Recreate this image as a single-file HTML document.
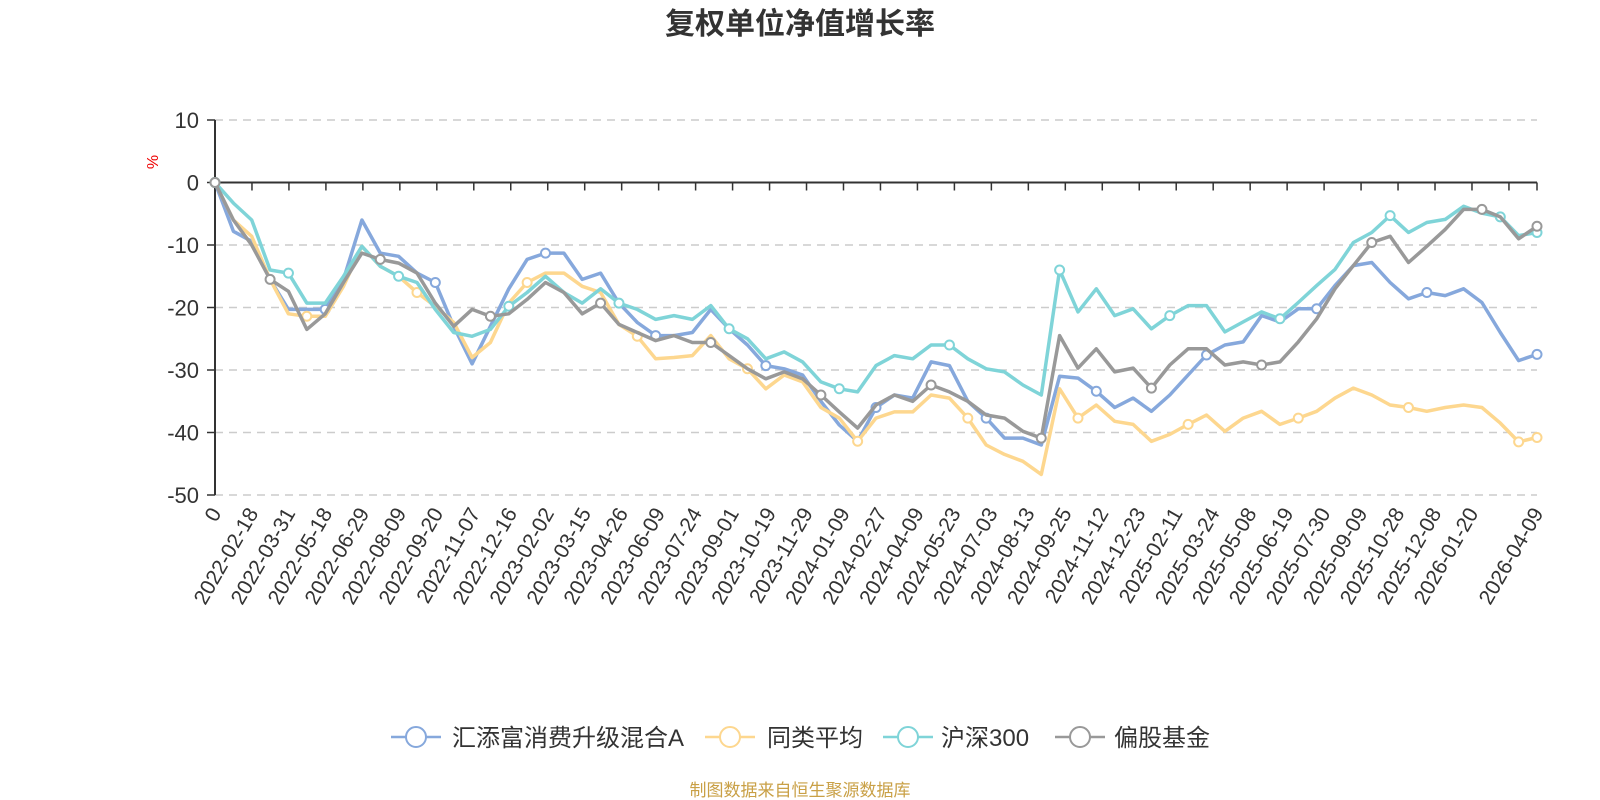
<!DOCTYPE html>
<html><head><meta charset="utf-8"><style>
html,body{margin:0;padding:0;background:#fff;width:1600px;height:800px;overflow:hidden;font-family:"Liberation Sans","Noto Sans CJK SC",sans-serif}
</style></head><body>
<svg id="chart" width="1600" height="800" xmlns="http://www.w3.org/2000/svg">
<text x="800" y="34" text-anchor="middle" font-size="30" font-weight="bold" fill="#333" font-family="Liberation Sans, Noto Sans CJK SC, sans-serif">复权单位净值增长率</text>
<text x="0" y="0" transform="translate(158,162) rotate(-90)" text-anchor="middle" font-size="16" fill="#e00">%</text>
<g id="grid"></g>
<g id="axes"></g>
<g id="series"></g>
<g id="legend"></g>
<text x="800" y="796" text-anchor="middle" font-size="17" fill="#c9a046" font-family="Liberation Sans, Noto Sans CJK SC, sans-serif">制图数据来自恒生聚源数据库</text>
</svg>
<script>
const xLabels = ["0","2022-02-18","2022-03-31","2022-05-18","2022-06-29","2022-08-09","2022-09-20","2022-11-07","2022-12-16","2023-02-02","2023-03-15","2023-04-26","2023-06-09","2023-07-24","2023-09-01","2023-10-19","2023-11-29","2024-01-09","2024-02-27","2024-04-09","2024-05-23","2024-07-03","2024-08-13","2024-09-25","2024-11-12","2024-12-23","2025-02-11","2025-03-24","2025-05-08","2025-06-19","2025-07-30","2025-09-09","2025-10-28","2025-12-08","2026-01-20","2026-04-09"];
const yTicks = [10,0,-10,-20,-30,-40,-50];
const seriesNames = ["汇添富消费升级混合A","同类平均","沪深300","偏股基金"];
const fundValues = [0,-7.8,-9.4,-15.5,-20.3,-20.3,-20.3,-15.5,-6,-11.3,-11.8,-14.5,-16,-23,-29,-23,-17,-12.3,-11.3,-11.3,-15.5,-14.5,-19.3,-22.4,-24.5,-24.5,-24,-20.3,-23.4,-26,-29.3,-29.8,-30.8,-35,-38.8,-41.4,-36,-34,-34.5,-28.7,-29.3,-35,-37.7,-40.9,-40.9,-42,-31,-31.3,-33.4,-36,-34.5,-36.6,-34,-30.8,-27.6,-26,-25.5,-21.3,-22.3,-20.2,-20.2,-16.5,-13.3,-12.8,-16,-18.6,-17.6,-18.1,-17,-19.2,-24,-28.5,-27.5];
const avgValues = [0,-6,-8.6,-15.5,-21,-21.4,-21.4,-16.6,-10.2,-13.4,-15,-17.6,-19.8,-22.4,-28,-25.6,-19.3,-16,-14.5,-14.5,-16.6,-17.6,-22.7,-24.6,-28.2,-28,-27.7,-24.5,-28.2,-29.8,-33,-30.8,-31.9,-36,-37.7,-41.4,-37.7,-36.7,-36.7,-34,-34.5,-37.7,-42,-43.5,-44.6,-46.7,-33,-37.7,-35.6,-38.2,-38.7,-41.4,-40.3,-38.7,-37.2,-39.8,-37.7,-36.6,-38.7,-37.7,-36.6,-34.5,-32.9,-34,-35.6,-36,-36.6,-36,-35.6,-36,-38.5,-41.5,-40.8];
const hs300Values = [0,-3.3,-6,-14,-14.5,-19.3,-19.3,-15,-10.2,-13.4,-15,-16,-20.3,-24,-24.6,-23.5,-19.8,-17.6,-15,-17.6,-19.3,-17,-19.3,-20.3,-21.9,-21.3,-21.9,-19.7,-23.4,-25,-28.2,-27.1,-28.7,-31.9,-33,-33.5,-29.3,-27.7,-28.2,-26,-26,-28.2,-29.8,-30.3,-32.4,-34,-14,-20.7,-17,-21.3,-20.2,-23.4,-21.3,-19.7,-19.7,-23.9,-22.3,-20.7,-21.8,-19.2,-16.5,-13.9,-9.6,-8,-5.3,-8,-6.4,-5.9,-3.8,-4.9,-5.5,-8.5,-8];
const equityValues = [0,-6,-10,-15.5,-17.4,-23.5,-21,-16,-11.3,-12.3,-12.9,-14.5,-19.3,-23,-20.3,-21.4,-21,-18.7,-16,-17.6,-21,-19.3,-22.7,-24,-25.3,-24.5,-25.6,-25.6,-27.7,-29.8,-31.4,-30.3,-31.4,-34,-36.7,-39.3,-35.6,-34,-35,-32.4,-33.5,-35,-37.2,-37.7,-39.8,-40.9,-24.5,-29.7,-26.6,-30.3,-29.7,-32.9,-29.2,-26.6,-26.6,-29.2,-28.7,-29.2,-28.7,-25.5,-21.8,-17,-13.3,-9.6,-8.6,-12.8,-10.2,-7.5,-4.3,-4.3,-5.5,-9,-7];
const colors = ["#86a8dc","#fdd78f","#7fd4d8","#999999"];

const NS="http://www.w3.org/2000/svg";
const X0=215, XEND=1537, TICKSTEP=36.97, Y0=182.5, PPU=6.25;
const nPts = fundValues.length;
function xScale(i){return X0+(XEND-X0)*i/(nPts-1);}
function xTick(k){return k===xLabels.length-1?XEND:X0+TICKSTEP*k;}
function yScale(v){return Y0-v*PPU;}
function mk(tag,attrs,parent){const e=document.createElementNS(NS,tag);for(const k in attrs)e.setAttribute(k,attrs[k]);parent.appendChild(e);return e;}

const grid=document.getElementById('grid'), axes=document.getElementById('axes'), ser=document.getElementById('series'), leg=document.getElementById('legend');
yTicks.forEach(v=>{
  const y=yScale(v);
  if(v!==0){const g=mk('line',{x1:X0,x2:XEND,y1:y,y2:y,stroke:'#ccc','stroke-width':1.5,'stroke-dasharray':'8,6'},grid);
  
  }
  const t=mk('line',{x1:X0-8,x2:X0,y1:y,y2:y,stroke:'#333','stroke-width':1.5},axes);
  
  
  const l=mk('text',{x:X0-16,y:y+8,'text-anchor':'end','font-size':22,fill:'#333'},axes);
  l.textContent=v;
  
  
});
const ya=mk('line',{x1:X0,x2:X0,y1:yScale(10),y2:yScale(-50),stroke:'#333','stroke-width':2},axes);


const xa=mk('line',{x1:X0,x2:XEND,y1:Y0,y2:Y0,stroke:'#333','stroke-width':2},axes);


for(let k=0;k<=35;k++){
  const x=X0+TICKSTEP*k;
  const t=mk('line',{x1:x,x2:x,y1:Y0,y2:Y0+8,stroke:'#333','stroke-width':1.5},axes);
  
  
}
const te=mk('line',{x1:XEND,x2:XEND,y1:Y0,y2:Y0+8,stroke:'#333','stroke-width':1.5},axes);


const labelY = yScale(-50)+18;
xLabels.forEach((lab,k)=>{
  const x=xTick(k);
  const l=mk('text',{x:0,y:0,'text-anchor':'end','font-size':21,fill:'#333',transform:`translate(${x+7},${labelY}) rotate(-60)`},axes);
  l.textContent=lab;
  
  
});
[fundValues,avgValues,hs300Values,equityValues].forEach((vals,s)=>{
  const g=mk('g',{},ser);
  
  
  const d=vals.map((v,i)=>(i?'L':'M')+xScale(i).toFixed(1)+','+yScale(v).toFixed(1)).join('');
  const p=mk('path',{d:d,fill:'none',stroke:colors[s],'stroke-width':3.5,'stroke-linejoin':'round'},g);
  
  
  vals.forEach((v,i)=>{
    if(i===0||(i+s)%6===0||i===vals.length-1){
      const c=mk('circle',{cx:xScale(i),cy:yScale(v),r:4.5,fill:'#fff',stroke:colors[s],'stroke-width':2},g);
      
      
    }
  });
});
const legIcon=[391,705,883,1055], legText=[452,767,941,1114];
seriesNames.forEach((n,s)=>{
  const g=mk('g',{},leg);
  
  
  const x=legIcon[s], y=737;
  mk('line',{x1:x,x2:x+50,y1:y,y2:y,stroke:colors[s],'stroke-width':2.5},g);
  mk('circle',{cx:x+25,cy:y,r:10,fill:'#fff',stroke:colors[s],'stroke-width':2},g);
  const t=mk('text',{x:legText[s],y:y+9,'font-size':24,fill:'#333'},g);
  t.textContent=n;
});
</script>
</body></html>
